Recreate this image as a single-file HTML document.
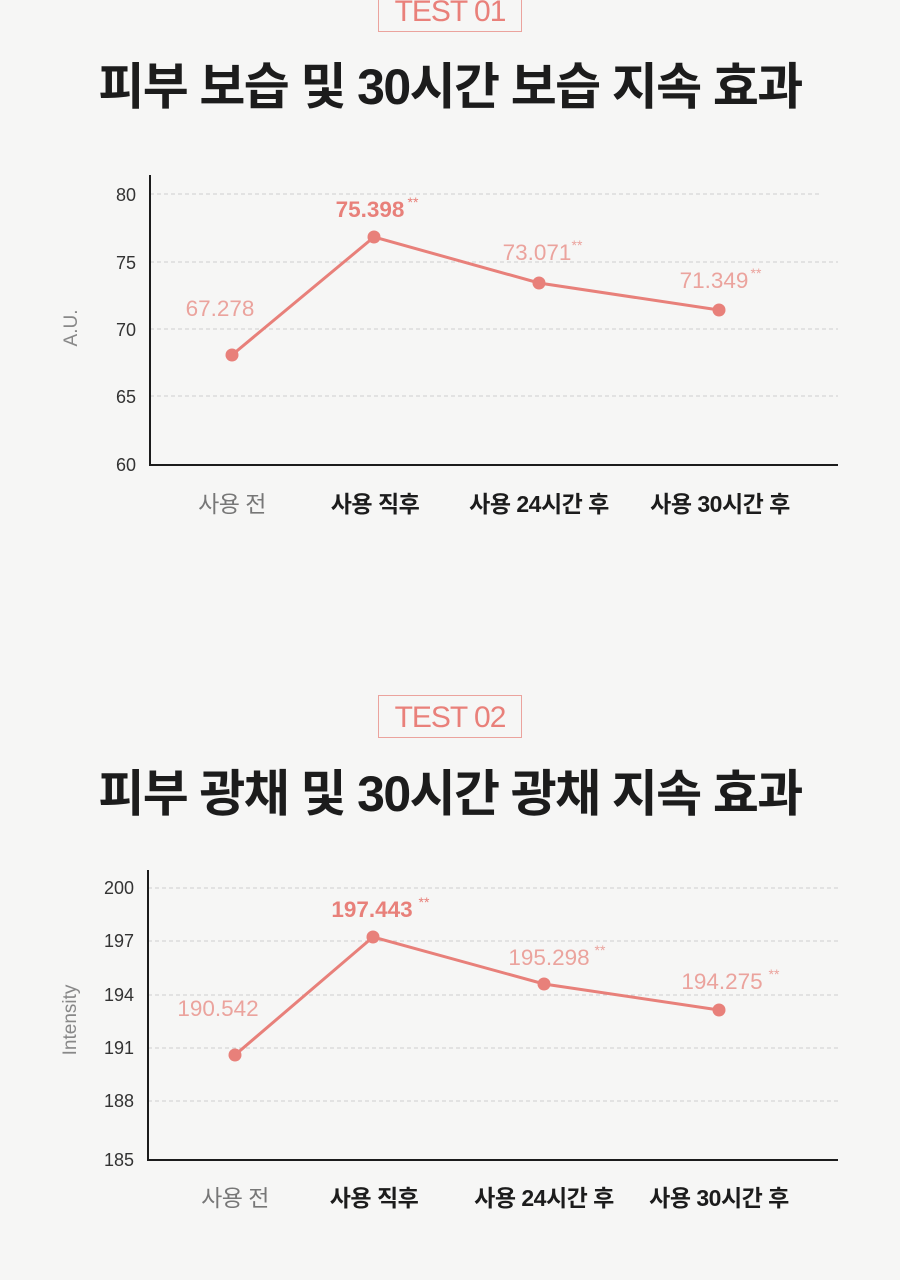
<!DOCTYPE html>
<html><head><meta charset="utf-8"><style>
html,body{margin:0;padding:0;background:#f6f6f5;}
body{width:900px;height:1280px;position:relative;overflow:hidden;font-family:"Liberation Sans","Noto Sans CJK KR",sans-serif;}
.tag{position:absolute;left:378px;width:144px;height:43px;border:1.5px solid #eba39d;color:#e9807a;font-size:30px;text-align:center;line-height:43px;letter-spacing:-1px;box-sizing:border-box;}
.title{position:absolute;left:0;width:900px;text-align:center;font-size:50px;font-weight:bold;color:#1c1c1c;letter-spacing:-1.6px;}
svg{position:absolute;left:0;top:0;}
</style></head><body>
<div class="tag" style="top:-11px;">TEST 01</div>
<div class="title" style="top:47px;">피부 보습 및 30시간 보습 지속 효과</div>
<div class="tag" style="top:695px;">TEST 02</div>
<div class="title" style="top:754px;">피부 광채 및 30시간 광채 지속 효과</div>
<svg width="900" height="1280" font-family="Liberation Sans, Noto Sans CJK KR, sans-serif">
<g stroke="#cfcfcf" stroke-dasharray="4,3" stroke-width="1">
<line x1="150" y1="194" x2="820" y2="194"/><line x1="150" y1="262" x2="838" y2="262"/><line x1="150" y1="329" x2="838" y2="329"/><line x1="150" y1="396" x2="838" y2="396"/>
<line x1="148" y1="888" x2="838" y2="888"/><line x1="148" y1="941" x2="838" y2="941"/><line x1="148" y1="995" x2="838" y2="995"/><line x1="148" y1="1048" x2="838" y2="1048"/><line x1="148" y1="1101" x2="838" y2="1101"/>
</g>
<g stroke="#1c1c1c" stroke-width="2" fill="none">
<polyline points="150,175 150,465 838,465"/>
<polyline points="148,870 148,1160 838,1160"/>
</g>
<g font-size="18" fill="#333" text-anchor="end">
<text x="136" y="201">80</text><text x="136" y="269">75</text><text x="136" y="336">70</text><text x="136" y="403">65</text><text x="136" y="471">60</text>
<text x="134" y="894">200</text><text x="134" y="947">197</text><text x="134" y="1001">194</text><text x="134" y="1054">191</text><text x="134" y="1107">188</text><text x="134" y="1166">185</text>
</g>
<text transform="translate(77,328) rotate(-90)" text-anchor="middle" font-size="19" fill="#888">A.U.</text>
<text transform="translate(76,1020) rotate(-90)" text-anchor="middle" font-size="19" fill="#888">Intensity</text>
<g stroke="#e8807a" stroke-width="3" fill="none"><polyline points="232,355 374,237 539,283 719,310"/><polyline points="235,1055 373,937 544,984 719,1010"/></g>
<g fill="#e8807a"><circle cx="232" cy="355" r="6.5"/><circle cx="374" cy="237" r="6.5"/><circle cx="539" cy="283" r="6.5"/><circle cx="719" cy="310" r="6.5"/>
<circle cx="235" cy="1055" r="6.5"/><circle cx="373" cy="937" r="6.5"/><circle cx="544" cy="984" r="6.5"/><circle cx="719" cy="1010" r="6.5"/></g>
<g font-size="22.5" fill="#eba39d" text-anchor="middle">
<text x="220" y="316">67.278</text>
<text x="370" y="217" font-weight="bold" fill="#e8807a">75.398</text><text x="413" y="207" font-size="14" fill="#e8807a">**</text>
<text x="537" y="260">73.071</text><text x="577" y="250" font-size="14">**</text>
<text x="714" y="288">71.349</text><text x="756" y="278" font-size="14">**</text>
<text x="218" y="1016">190.542</text>
<text x="372" y="917" font-weight="bold" fill="#e8807a">197.443</text><text x="424" y="907" font-size="14" fill="#e8807a">**</text>
<text x="549" y="965">195.298</text><text x="600" y="955" font-size="14">**</text>
<text x="722" y="989">194.275</text><text x="774" y="979" font-size="14">**</text>
</g>
<g font-size="23" text-anchor="middle" fill="#1c1c1c" font-weight="bold" letter-spacing="-0.5">
<text x="232" y="512" fill="#777" font-weight="normal">사용 전</text><text x="375" y="512">사용 직후</text><text x="539" y="512">사용 24시간 후</text><text x="720" y="512">사용 30시간 후</text>
<text x="235" y="1206" fill="#777" font-weight="normal">사용 전</text><text x="374" y="1206">사용 직후</text><text x="544" y="1206">사용 24시간 후</text><text x="719" y="1206">사용 30시간 후</text>
</g>
</svg>
</body></html>
